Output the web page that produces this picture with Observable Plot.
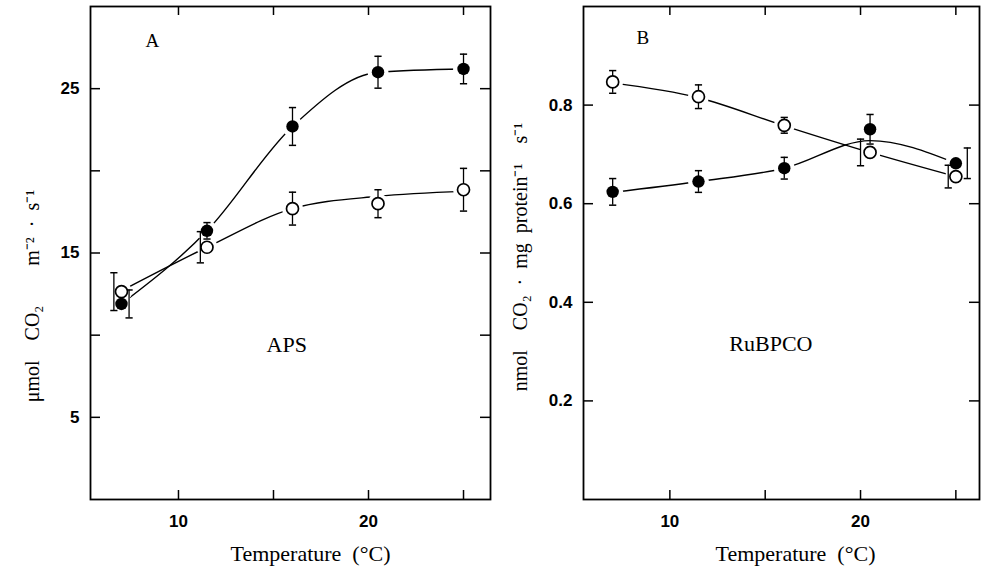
<!DOCTYPE html>
<html>
<head>
<meta charset="utf-8">
<script src="https://cdn.jsdelivr.net/npm/d3@7"></script>
<script src="https://cdn.jsdelivr.net/npm/@observablehq/plot@0.6"></script>
<style>
  html, body { margin: 0; padding: 0; background: #fff; }
  #wrap { position: relative; width: 981px; height: 569px; overflow: hidden; }
  #panelA { position: absolute; left: 0; top: 0; }
  #panelB { position: absolute; left: 500px; top: 0; }
  svg { overflow: visible; }
</style>
</head>
<body>
<div id="wrap"><div id="panelA"></div><div id="panelB"></div></div>
<script>
// ---------- data ----------
const temperature = [7, 11.5, 16, 20.5, 25];          // °C
const xTicks = [10, 15, 20, 25];
const xTickLabels = [10, 20];

// Panel A: APS (µmol CO2 m-2 s-1)
const apsFilled     = [11.9, 16.35, 22.7, 26.0, 26.2];
const apsFilledErr  = [0.85, 0.5, 1.15, 0.97, 0.9];
const apsFilledBarT = [7.4, 11.5, 16, 20.5, 25];
const apsOpen       = [12.65, 15.35, 17.7, 18.0, 18.85];
const apsOpenErr    = [1.15, 0.95, 1.0, 0.85, 1.3];
const apsOpenBarT   = [6.6, 11.15, 16, 20.5, 25];
const apsFilledFit  = [11.9, 16.35, 22.7, 26.0, 26.2];
const apsOpenFit    = [12.7, 15.35, 17.7, 18.45, 18.75];
const apsYTicks = [5, 10, 15, 20, 25];
const apsYTickLabels = [5, 15, 25];

// Panel B: RuBPCO (nmol CO2 mg protein-1 s-1)
const rubFilled     = [0.624, 0.645, 0.672, 0.751, 0.682];
const rubFilledErr  = [0.027, 0.022, 0.022, 0.03, 0.031];
const rubFilledBarT = [7, 11.5, 16, 20.5, 25.6];
const rubOpen       = [0.847, 0.817, 0.759, 0.704, 0.655];
const rubOpenErr    = [0.023, 0.024, 0.016, 0.027, 0.023];
const rubOpenBarT   = [7, 11.5, 16, 20.0, 24.6];
const rubFilledFit  = [0.623, 0.645, 0.672, 0.728, 0.682];
const rubOpenFit    = [0.845, 0.815, 0.758, 0.704, 0.655];
const rubYTicks = [0.2, 0.4, 0.6, 0.8];
const rubYTickLabels = [0.2, 0.4, 0.6, 0.8];

// ---------- drawing ----------
const capSymbol = {
  draw(ctx, size) {
    const r = Math.sqrt(size / Math.PI);
    ctx.moveTo(-r, 0);
    ctx.lineTo(r, 0);
  }
};

function rows(xs, ys, errs, barXs) {
  return xs.map((x, i) => ({x, y: ys[i], e: errs ? errs[i] : 0, bx: barXs ? barXs[i] : x}));
}

function errorBars(data) {
  return [
    Plot.ruleX(data, {x: "bx", y1: d => d.y - d.e, y2: d => d.y + d.e, stroke: "black", strokeWidth: 1.3}),
    Plot.dot(data, {x: "bx", y: d => d.y + d.e, symbol: capSymbol, r: 3.6, stroke: "black", strokeWidth: 1.5, fill: "none"}),
    Plot.dot(data, {x: "bx", y: d => d.y - d.e, symbol: capSymbol, r: 3.6, stroke: "black", strokeWidth: 1.5, fill: "none"})
  ];
}

function panel(cfg) {
  const H = 569, mt = 6, mb = 70;
  const fw = cfg.width - cfg.ml - cfg.mr;
  const fh = H - mt - mb;
  const filled = rows(temperature, cfg.filled, cfg.filledErr, cfg.filledBarT);
  const open = rows(temperature, cfg.open, cfg.openErr, cfg.openBarT);
  const sans = "'Liberation Sans', Arial, sans-serif";
  return Plot.plot({
    width: cfg.width,
    height: H,
    marginLeft: cfg.ml,
    marginRight: cfg.mr,
    marginTop: mt,
    marginBottom: mb,
    x: {domain: cfg.xDomain},
    y: {domain: cfg.yDomain},
    style: {fontFamily: "'Liberation Serif', serif", fontSize: "18px", background: "transparent", color: "black"},
    marks: [
      Plot.line(rows(temperature, cfg.filledFit), {x: "x", y: "y", curve: "monotone-x", stroke: "black", strokeWidth: 1.4}),
      Plot.line(rows(temperature, cfg.openFit), {x: "x", y: "y", curve: "monotone-x", stroke: "black", strokeWidth: 1.4}),
      Plot.dot(filled.concat(open), {x: "x", y: "y", r: 10.5, fill: "white"}),
      ...errorBars(filled),
      ...errorBars(open),
      Plot.dot(filled, {x: "x", y: "y", r: 6.2, fill: "black"}),
      Plot.dot(open, {x: "x", y: "y", r: 6, fill: "white", stroke: "black", strokeWidth: 1.7}),
      Plot.tickY(cfg.yTicks, {y: d => d, insetRight: fw - 10, stroke: "black", strokeWidth: 1.5}),
      Plot.tickY(cfg.yTicks, {y: d => d, insetLeft: fw - 10, stroke: "black", strokeWidth: 1.5}),
      Plot.tickX(xTicks, {x: d => d, insetBottom: fh - 9, stroke: "black", strokeWidth: 1.5}),
      Plot.tickX(xTicks, {x: d => d, insetTop: fh - 9, stroke: "black", strokeWidth: 1.5}),
      Plot.frame({stroke: "black", strokeWidth: 1.8}),
      Plot.axisY(cfg.yTickLabels, {tickSize: 0, tickPadding: 11, tickFormat: cfg.yFmt, label: null,
        fontSize: 17, fontWeight: "bold", fontFamily: sans}),
      Plot.axisX(xTickLabels, {tickSize: 0, tickPadding: 15, label: null,
        fontSize: 17, fontWeight: "bold", fontFamily: sans}),
      Plot.text([cfg.letter], {text: d => d, frameAnchor: "top-left", dx: cfg.letterDx, dy: cfg.letterDy, fontSize: 19}),
      Plot.text([cfg.name], {text: d => d.t, x: d => d.x, y: d => d.y, fontSize: 22}),
      Plot.text(["Temperature\u2002(°C)"], {text: d => d, frameAnchor: "bottom", textAnchor: "middle", lineAnchor: "middle",
        dx: cfg.xtDx, dy: 54, fontSize: 22}),
      Plot.text([cfg.yTitle], {text: d => d, frameAnchor: "left", textAnchor: "middle", lineAnchor: "middle", rotate: -90,
        dx: cfg.ytDx, dy: cfg.ytDy, fontSize: 20})
    ]
  });
}

document.getElementById("panelA").append(panel({
  width: 500, ml: 90, mr: 10,
  xDomain: [5.37, 26.42], yDomain: [0, 30],
  filled: apsFilled, filledErr: apsFilledErr, filledBarT: apsFilledBarT,
  open: apsOpen, openErr: apsOpenErr, openBarT: apsOpenBarT,
  filledFit: apsFilledFit, openFit: apsOpenFit,
  yTicks: apsYTicks, yTickLabels: apsYTickLabels, yFmt: d => String(d),
  letter: "A", letterDx: 55, letterDy: 27,
  name: {t: "APS", x: 15.7, y: 9.4},
  xtDx: 20, ytDx: -58, ytDy: 43,
  yTitle: "μmol\u2003CO₂\u2003\u2003m⁻²\u2002·\u2002s⁻¹"
}));

document.getElementById("panelB").append(panel({
  width: 481, ml: 83, mr: 2,
  xDomain: [5.47, 26.24], yDomain: [0, 1.0],
  filled: rubFilled, filledErr: rubFilledErr, filledBarT: rubFilledBarT,
  open: rubOpen, openErr: rubOpenErr, openBarT: rubOpenBarT,
  filledFit: rubFilledFit, openFit: rubOpenFit,
  yTicks: rubYTicks, yTickLabels: rubYTickLabels, yFmt: d => d.toFixed(1),
  letter: "B", letterDx: 53, letterDy: 24,
  name: {t: "RuBPCO", x: 15.3, y: 0.315},
  xtDx: 14, ytDx: -63, ytDy: 4,
  yTitle: "nmol\u2003CO₂\u2002·\u2002mg\u2002protein⁻¹\u2003s⁻¹"
}));
</script>
</body>
</html>
